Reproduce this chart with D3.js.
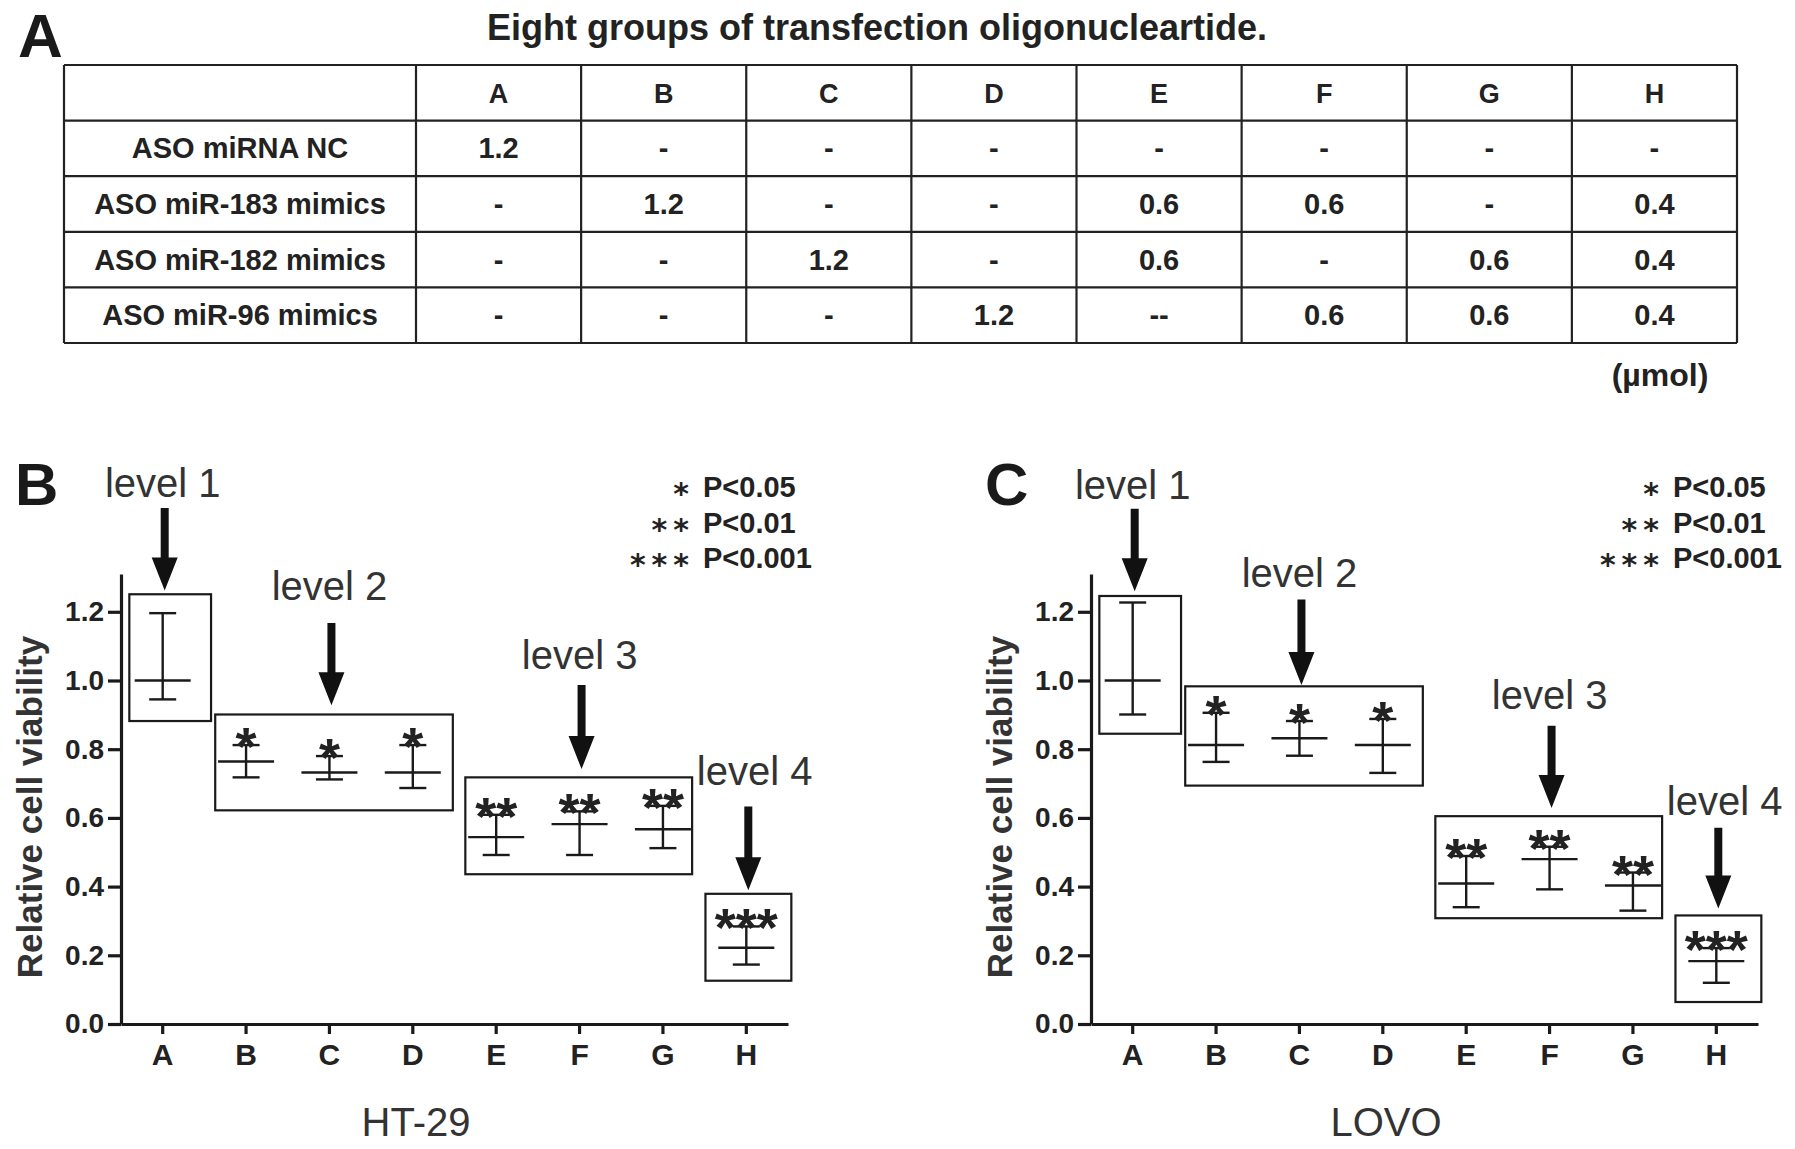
<!DOCTYPE html>
<html>
<head>
<meta charset="utf-8">
<script src="https://cdn.jsdelivr.net/npm/d3@7.9.0/dist/d3.min.js"></script>
<style>
  body { margin: 0; background: #fff; }
  svg { display: block; font-family: "Liberation Sans", Arial, sans-serif; }
</style>
</head>
<body>
<svg id="fig" width="1795" height="1149"></svg>
<script>
// groups and viability values (mean, error bar top / bottom)
const groups = ['A', 'B', 'C', 'D', 'E', 'F', 'G', 'H'];
const stars = ['', '*', '*', '*', '**', '**', '**', '***'];

const htMean  = [1.00, 0.764, 0.732, 0.732, 0.544, 0.582, 0.567, 0.222];
const htUpper = [1.196, 0.812, 0.780, 0.812, 0.609, 0.619, 0.635, 0.284];
const htLower = [0.945, 0.718, 0.712, 0.687, 0.492, 0.492, 0.512, 0.173];

const lovoMean  = [1.00, 0.812, 0.832, 0.812, 0.409, 0.480, 0.403, 0.183];
const lovoUpper = [1.227, 0.906, 0.882, 0.888, 0.489, 0.516, 0.441, 0.221];
const lovoLower = [0.901, 0.763, 0.781, 0.731, 0.340, 0.392, 0.330, 0.120];

const yTicks = [0, 0.2, 0.4, 0.6, 0.8, 1.0, 1.2];

// level groupings: first group, last group, bottom / top of the box
const htLevels = [
  { name: 'level 1', from: 'A', to: 'A', lo: 0.882, hi: 1.251, label: 1.534, arrowTop: 1.502, arrowTip: 1.262 },
  { name: 'level 2', from: 'B', to: 'D', lo: 0.622, hi: 0.901, label: 1.233, arrowTop: 1.167, arrowTip: 0.928 },
  { name: 'level 3', from: 'E', to: 'G', lo: 0.436, hi: 0.718, label: 1.034, arrowTop: 0.987, arrowTip: 0.742 },
  { name: 'level 4', from: 'H', to: 'H', lo: 0.126, hi: 0.379, label: 0.695, arrowTop: 0.633, arrowTip: 0.389 }
];
const lovoLevels = [
  { name: 'level 1', from: 'A', to: 'A', lo: 0.845, hi: 1.246, label: 1.528, arrowTop: 1.500, arrowTip: 1.260 },
  { name: 'level 2', from: 'B', to: 'D', lo: 0.694, hi: 0.983, label: 1.273, arrowTop: 1.236, arrowTip: 0.987 },
  { name: 'level 3', from: 'E', to: 'G', lo: 0.308, hi: 0.605, label: 0.917, arrowTop: 0.868, arrowTip: 0.629 },
  { name: 'level 4', from: 'H', to: 'H', lo: 0.064, hi: 0.316, label: 0.609, arrowTop: 0.571, arrowTip: 0.336 }
];

const pStars = ['*', '**', '***'];
const pValues = ['P<0.05', 'P<0.01', 'P<0.001'];

// table of panel A
const tableRows = ['ASO miRNA NC', 'ASO miR-183 mimics', 'ASO miR-182 mimics', 'ASO miR-96 mimics'];
const tableValues = [
  ['1.2', '-', '-', '-', '-', '-', '-', '-'],
  ['-', '1.2', '-', '-', '0.6', '0.6', '-', '0.4'],
  ['-', '-', '1.2', '-', '0.6', '-', '0.6', '0.4'],
  ['-', '-', '-', '1.2', '--', '0.6', '0.6', '0.4']
];

const svg = d3.select('#fig');
const ink = '#1a1a1a';

// ---------- panel A ----------
svg.append('text').attr('x', 18).attr('y', 57)
  .attr('font-size', 62).attr('font-weight', 'bold').attr('fill', ink).text('A');
svg.append('text').attr('x', 877).attr('y', 40).attr('text-anchor', 'middle')
  .attr('font-size', 36).attr('font-weight', 'bold').attr('fill', '#222')
  .text('Eight groups of transfection oligonucleartide.');

const tLeft = 64, tSplit = 416, tRight = 1737;
const colX = d3.scaleBand().domain(groups).range([tSplit, tRight]);
const rowY = d3.scaleBand().domain(['head', ...tableRows]).range([65, 343]);

const table = svg.append('g').attr('stroke', '#222').attr('stroke-width', 2.2);
rowY.domain().forEach(r => {
  table.append('line').attr('x1', tLeft).attr('x2', tRight)
    .attr('y1', rowY(r)).attr('y2', rowY(r));
});
table.append('line').attr('x1', tLeft).attr('x2', tRight).attr('y1', 343).attr('y2', 343);
[tLeft, ...groups.map(g => colX(g)), tRight].forEach(x => {
  table.append('line').attr('x1', x).attr('x2', x).attr('y1', 65).attr('y2', 343);
});

const cellText = svg.append('g').attr('font-weight', 'bold').attr('fill', '#222')
  .attr('text-anchor', 'middle');
groups.forEach(g => {
  cellText.append('text').attr('x', colX(g) + colX.bandwidth() / 2)
    .attr('y', rowY('head') + rowY.bandwidth() / 2 + 10)
    .attr('font-size', 27).text(g);
});
tableRows.forEach((r, i) => {
  const cy = rowY(r) + rowY.bandwidth() / 2 + 10;
  cellText.append('text').attr('x', (tLeft + tSplit) / 2).attr('y', cy)
    .attr('font-size', 29).text(r);
  tableValues[i].forEach((v, j) => {
    cellText.append('text').attr('x', colX(groups[j]) + colX.bandwidth() / 2).attr('y', cy)
      .attr('font-size', 29).text(v);
  });
});
cellText.append('text').attr('x', 1660).attr('y', 386).attr('font-size', 32).text('(µmol)');

// ---------- panels B and C ----------
function drawPanel(opt) {
  const x0 = opt.left;
  const x = d3.scaleBand().domain(groups).range([x0, x0 + 667]);
  const y = d3.scaleLinear().domain([0, 1.31]).range([1024, 574]);
  const cx = g => x(g) + x.bandwidth() / 2;
  const g = svg.append('g');

  g.append('text').attr('x', x0 - 106).attr('y', 505)
    .attr('font-size', 60).attr('font-weight', 'bold').attr('fill', ink).text(opt.letter);

  // axes
  const yAxis = g.append('g').attr('transform', `translate(${x0},0)`)
    .call(d3.axisLeft(y).tickValues(yTicks).tickFormat(d3.format('.1f'))
      .tickSize(13).tickSizeOuter(0).tickPadding(4));
  const xAxis = g.append('g').attr('transform', 'translate(0,1024)')
    .call(d3.axisBottom(x).tickSize(10).tickSizeOuter(0).tickPadding(10));
  [yAxis, xAxis].forEach(a => {
    a.selectAll('path, line').attr('stroke', ink).attr('stroke-width', 3.2);
    a.selectAll('text').attr('fill', '#222').attr('font-weight', 'bold')
      .attr('font-family', '"Liberation Sans", Arial, sans-serif');
  });
  yAxis.selectAll('text').attr('font-size', 28);
  xAxis.selectAll('text').attr('font-size', 30);

  g.append('text')
    .attr('transform', `translate(${x0 - 79},807) rotate(-90)`)
    .attr('text-anchor', 'middle').attr('font-size', 35).attr('font-weight', 'bold')
    .attr('fill', '#333').text('Relative cell viability');

  g.append('text').attr('x', x0 + 295).attr('y', 1136).attr('text-anchor', 'middle')
    .attr('font-size', 40).attr('fill', '#333').text(opt.cell);

  // error bars
  const bars = g.append('g').attr('stroke', ink).attr('stroke-width', 2.4);
  groups.forEach((gr, i) => {
    const c = cx(gr);
    bars.append('line').attr('x1', c).attr('x2', c)
      .attr('y1', y(opt.lower[i])).attr('y2', y(opt.upper[i]));
    [opt.lower[i], opt.upper[i]].forEach(v => {
      bars.append('line').attr('x1', c - 13.5).attr('x2', c + 13.5)
        .attr('y1', y(v)).attr('y2', y(v));
    });
    bars.append('line').attr('x1', c - 28).attr('x2', c + 28)
      .attr('y1', y(opt.mean[i])).attr('y2', y(opt.mean[i]));
    g.append('text').attr('x', c).attr('y', y(opt.upper[i]) + 20)
      .attr('text-anchor', 'middle').attr('font-weight', 'bold')
      .attr('font-size', 54).attr('fill', '#222').text(stars[i]);
  });

  // level boxes, labels and arrows
  opt.levels.forEach(lv => {
    const bw = x.bandwidth();
    const left = cx(lv.from) - (lv.from === 'H' ? 0.49 : lv.from === 'A' ? 0.40 : 0.37) * bw;
    const right = cx(lv.to) + (lv.to === 'H' ? 0.54 : lv.to === 'A' ? 0.58 : lv.to === 'D' ? 0.48 : 0.35) * bw;
    g.append('rect').attr('x', left).attr('y', y(lv.hi))
      .attr('width', right - left).attr('height', y(lv.lo) - y(lv.hi))
      .attr('fill', 'none').attr('stroke', ink).attr('stroke-width', 2.2);

    const mid = lv.from === lv.to ? cx(lv.from) : cx(groups[groups.indexOf(lv.from) + 1]);
    const lx = lv.from === 'H' ? mid + 0.1 * bw : mid;
    g.append('text').attr('x', lx).attr('y', y(lv.label)).attr('text-anchor', 'middle')
      .attr('font-size', 40).attr('fill', '#333').text(lv.name);

    const ax = mid + 2, top = y(lv.arrowTop), tip = y(lv.arrowTip), head = 33;
    g.append('path')
      .attr('d', `M${ax - 4},${top}L${ax + 4},${top}L${ax + 4},${tip - head}L${ax + 13},${tip - head}` +
        `L${ax},${tip}L${ax - 13},${tip - head}L${ax - 4},${tip - head}Z`)
      .attr('fill', '#111');
  });

  // significance legend: stars right-aligned, p values left-aligned
  pStars.forEach((s, i) => {
    const base = 497 + i * 35.5;
    g.append('text').attr('x', x0 + 574).attr('y', base + 7).attr('text-anchor', 'end')
      .attr('font-family', '"DejaVu Sans", sans-serif').attr('font-weight', 'bold')
      .attr('font-size', 30).attr('letter-spacing', 6).attr('fill', '#222').text(s);
    g.append('text').attr('x', x0 + 582).attr('y', base)
      .attr('font-size', 29).attr('font-weight', 'bold').attr('fill', '#222').text(pValues[i]);
  });
}

drawPanel({ letter: 'B', cell: 'HT-29', left: 121, mean: htMean, upper: htUpper, lower: htLower, levels: htLevels });
drawPanel({ letter: 'C', cell: 'LOVO', left: 1091, mean: lovoMean, upper: lovoUpper, lower: lovoLower, levels: lovoLevels });
</script>
</body>
</html>
